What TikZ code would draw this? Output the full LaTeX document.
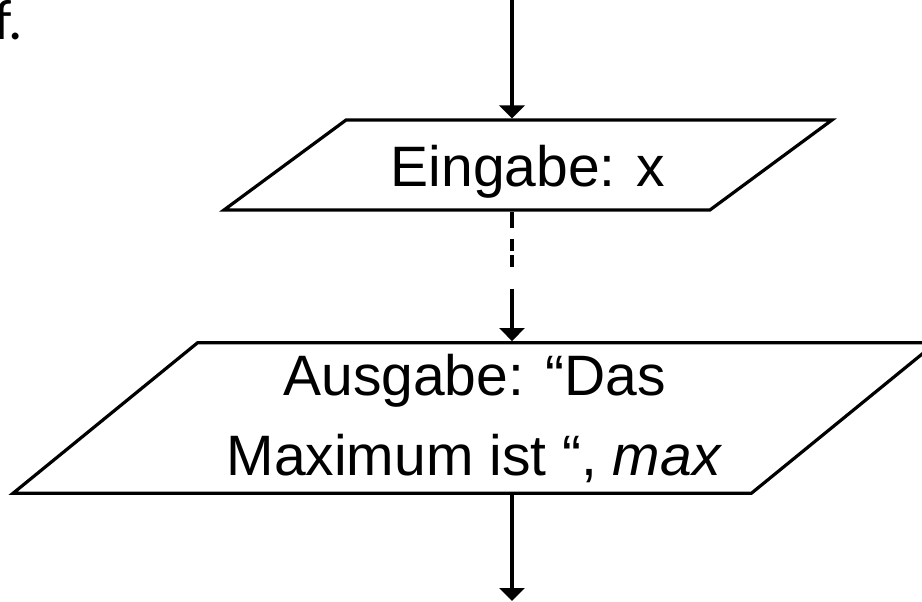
\documentclass[tikz,border=0pt]{standalone}
\usepackage{fontspec}
\setmainfont{Liberation Sans}
\newfontfamily\slidefont{Carlito}
\usetikzlibrary{positioning, arrows.meta, shapes.geometric}

\begin{document}
\begin{tikzpicture}[x=0.5pt, y=0.5pt]

	\tikzstyle{io}=[draw, trapezium, trapezium stretches body, line width=1.6pt, inner xsep=0pt, align=center, font=\fontsize{28.5}{40}\selectfont]
	\tikzstyle{flow}=[-{Triangle[length=6.5pt, width=12.5pt]}, line width=1.6pt]
	\tikzstyle{broken}=[flow, dash pattern=on 8pt off 5.5pt on 6pt off 2pt on 6pt off 11pt on 200pt]

	\useasboundingbox (0,0) rectangle (922,601);

	\node[anchor=base west, inner sep=0pt, font=\slidefont\fontsize{28.5}{34}\selectfont] (fragment) at (-6,561) {f.};

	\coordinate (start) at (512,601);
	\node[io, trapezium left angle=36.4, trapezium right angle=143.6, inner ysep=0pt, text height=33.5pt, text depth=11.5pt, minimum width=304pt, minimum height=45pt] (eingabe) at (528,436) {Eingabe: x};
	\node[io, trapezium left angle=39.2, trapezium right angle=140.8, inner ysep=5.5pt, minimum width=461.5pt, minimum height=75pt] (ausgabe) at (474.5,183) {Ausgabe: “Das\\Maximum ist “, \textit{max}};
	\coordinate (end) at (512,0);

	\draw[flow] (start) -- (start |- eingabe.north);
	\draw[broken] (start |- eingabe.south) -- (start |- ausgabe.north);
	\draw[flow] (start |- ausgabe.south) -- (end);

\end{tikzpicture}
\end{document}
